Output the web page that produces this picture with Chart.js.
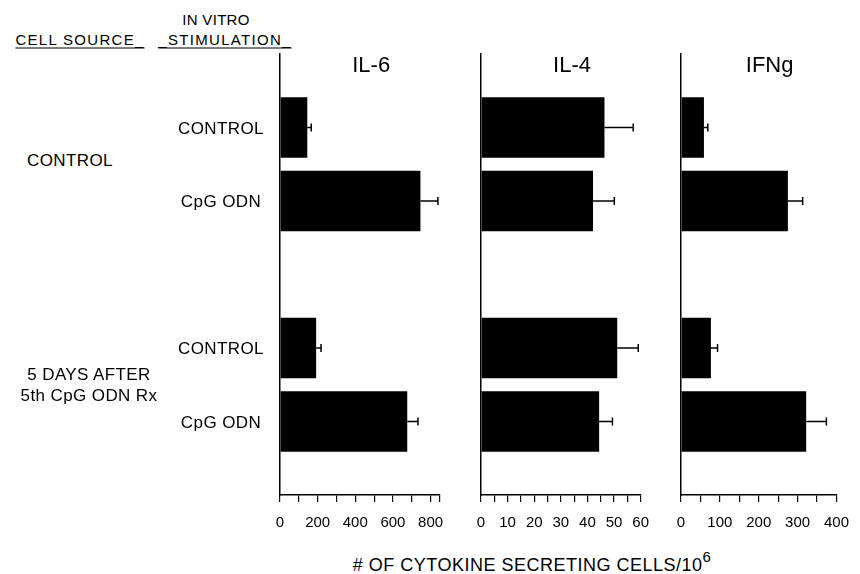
<!DOCTYPE html>
<html>
<head>
<meta charset="utf-8">
<script src="https://cdn.jsdelivr.net/npm/chart.js@4.4.1/dist/chart.umd.min.js"></script>
<style>
  body { margin: 0; background: #fff; }
  #wrap { position: relative; width: 860px; height: 574px; overflow: hidden;
          font-family: "Liberation Sans", Arial, sans-serif; color: #000; }
  #wrap canvas { position: absolute; top: 0; }
  .txt { position: absolute; white-space: nowrap; transform: translate(-50%, -50%); text-align: center; }
  .row { font-size: 17px; letter-spacing: 0.4px; line-height: 21px; }
  .hdr { font-size: 15px; letter-spacing: 1.3px; }
</style>
</head>
<body>
<div id="wrap">
  <div class="txt hdr" style="left:216px; top:19px; letter-spacing:0.3px">IN VITRO</div>
  <div class="txt hdr" style="left:80px; top:39px; text-decoration:underline; text-underline-offset:3px">CELL SOURCE_</div>
  <div class="txt hdr" style="left:225px; top:39px; text-decoration:underline; text-underline-offset:3px">_STIMULATION_</div>
  <div class="txt" style="left:532px; top:563px; font-size:18px; letter-spacing:0.5px">
    # OF CYTOKINE SECRETING CELLS/10<sup style="font-size:15px; position:relative; top:-2px">6</sup>
  </div>
</div>
<script>
// category slots: empty slots keep the gap between the two cell sources
const rowLabels = ['', 'CONTROL', 'CpG ODN', '', 'CONTROL', 'CpG ODN', ''];
const cellSources = ['CONTROL', '5 DAYS AFTER<br>5th CpG ODN Rx'];
const cytokines = ['IL-6', 'IL-4', 'IFNg'];

// values in order: control/CONTROL, control/CpG, 5 days/CONTROL, 5 days/CpG
const il6Values = [145, 746, 192, 676];
const il6Errors = [21, 93, 26, 57];
const il4Values = [46.4, 42.1, 51.2, 44.4];
const il4Errors = [10.8, 8.0, 7.9, 5.0];
const ifngValues = [59, 275, 77, 322];
const ifngErrors = [10, 38, 17, 52];

const axisMax = [850, 60, 400];
const tickSteps = [100, 5, 50];
const labelSteps = [200, 10, 100];

const FONT = '"Liberation Sans", Arial, sans-serif';
const pad = a => [null, a[0], a[1], null, a[2], a[3], null];

const errorBars = {
    id: 'errorBars',
    afterDatasetsDraw(chart, args, opts) {
        const { ctx, scales: { x } } = chart;
        const vals = chart.data.datasets[0].data;
        ctx.save();
        ctx.strokeStyle = '#000';
        ctx.lineWidth = 1.5;
        chart.getDatasetMeta(0).data.forEach((bar, i) => {
            if (vals[i] == null) return;
            const x0 = x.getPixelForValue(vals[i]);
            const x1 = x.getPixelForValue(vals[i] + opts.errors[i]);
            ctx.beginPath();
            ctx.moveTo(x0, bar.y); ctx.lineTo(x1, bar.y);
            ctx.moveTo(x1, bar.y - 4); ctx.lineTo(x1, bar.y + 4);
            ctx.stroke();
        });
        ctx.restore();
    }
};

const panelTitle = {
    id: 'panelTitle',
    afterDraw(chart, args, opts) {
        const { ctx, chartArea } = chart;
        ctx.save();
        ctx.font = '22px ' + FONT;
        ctx.fillStyle = '#000';
        ctx.textAlign = 'center';
        ctx.textBaseline = 'middle';
        ctx.fillText(opts.text, chartArea.left + chartArea.width * 0.57, 66);
        ctx.restore();
    }
};

const panelLefts = [260, 461, 661];
const series = [[il6Values, il6Errors], [il4Values, il4Errors], [ifngValues, ifngErrors]];
const wrap = document.getElementById('wrap');
const charts = [];

series.forEach(([vals, errs], p) => {
    const cv = document.createElement('canvas');
    cv.width = 200; cv.height = 574;
    cv.style.left = panelLefts[p] + 'px';
    wrap.appendChild(cv);

    charts.push(new Chart(cv.getContext('2d'), {
        type: 'bar',
        data: {
            labels: rowLabels,
            datasets: [{ data: pad(vals), backgroundColor: '#000', borderWidth: 0,
                         barPercentage: 0.82, categoryPercentage: 1 }]
        },
        options: {
            indexAxis: 'y',
            responsive: false,
            animation: false,
            layout: { padding: { left: 20, right: 20, top: 54, bottom: 39 } },
            plugins: {
                legend: { display: false },
                tooltip: { enabled: false },
                errorBars: { errors: pad(errs) },
                panelTitle: { text: cytokines[p] }
            },
            scales: {
                x: {
                    type: 'linear', min: 0, max: axisMax[p], bounds: 'data',
                    ticks: {
                        stepSize: tickSteps[p], includeBounds: false, autoSkip: false, maxRotation: 0,
                        padding: 12, color: '#000', font: { size: 15, family: FONT },
                        callback: v => (v % labelSteps[p] === 0 ? v : '')
                    },
                    grid: { drawOnChartArea: false, drawTicks: true, tickLength: 7, color: '#000', lineWidth: 1.2 },
                    border: { display: true, color: '#000', width: 1.5 },
                    afterFit: s => { s.height = 40; }
                },
                y: {
                    type: 'category', offset: false,
                    ticks: { display: false },
                    grid: { display: false },
                    border: { display: true, color: '#000', width: 1.5 },
                    afterFit: s => { s.width = 0; }
                }
            }
        },
        plugins: [errorBars, panelTitle]
    }));
});

// row and group labels placed from the first panel's category scale
const yScale = charts[0].scales.y;
rowLabels.forEach((lab, i) => {
    if (!lab) return;
    const d = document.createElement('div');
    d.className = 'txt row';
    d.style.left = '221px';
    d.style.top = yScale.getPixelForValue(i) + 'px';
    d.textContent = lab;
    wrap.appendChild(d);
});
cellSources.forEach((lab, g) => {
    const d = document.createElement('div');
    d.className = 'txt row';
    d.style.left = (g === 0 ? 70 : 89) + 'px';
    d.style.top = ((yScale.getPixelForValue(1 + g * 3) + yScale.getPixelForValue(2 + g * 3)) / 2 - (g === 0 ? 4 : 0)) + 'px';
    d.innerHTML = lab;
    wrap.appendChild(d);
});
</script>
</body>
</html>
